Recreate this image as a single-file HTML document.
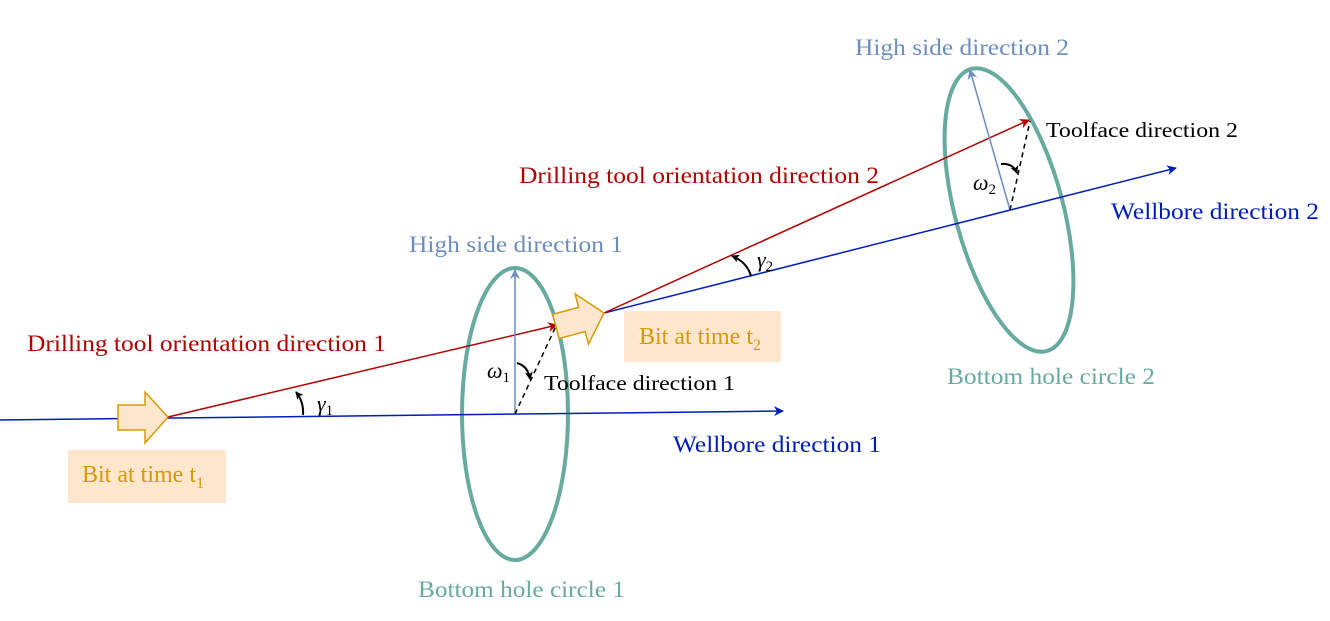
<!DOCTYPE html>
<html><head><meta charset="utf-8"><style>html,body{margin:0;padding:0;background:#fff}svg{display:block}</style></head><body>
<svg width="1330" height="621" viewBox="0 0 1330 621" xmlns="http://www.w3.org/2000/svg" font-family="Liberation Serif, serif" font-size="23">
<defs>
<marker id="ab" markerWidth="10" markerHeight="10" refX="9" refY="5" orient="auto" markerUnits="userSpaceOnUse"><path d="M0,0 L10,5 L0,10 L3,5z" fill="#001dbc"/></marker>
<marker id="ar" markerWidth="10" markerHeight="10" refX="9" refY="5" orient="auto" markerUnits="userSpaceOnUse"><path d="M0,0 L10,5 L0,10 L3,5z" fill="#b20000"/></marker>
<marker id="ah" markerWidth="10" markerHeight="10" refX="9" refY="5" orient="auto" markerUnits="userSpaceOnUse"><path d="M0,0 L10,5 L0,10 L3,5z" fill="#6c8ebf"/></marker>
<marker id="ak" markerWidth="8" markerHeight="8" refX="7" refY="4" orient="auto" markerUnits="userSpaceOnUse"><path d="M0,0 L8,4 L0,8 L2,4z" fill="#000"/></marker>
</defs>
<ellipse cx="515" cy="414" rx="53" ry="146" fill="none" stroke="#67ab9f" stroke-width="4"/>
<ellipse cx="1009" cy="210" rx="54" ry="146" fill="none" stroke="#67ab9f" stroke-width="4" transform="rotate(-15 1009 210)"/>
<line x1="0" y1="420" x2="783" y2="411" stroke="#001dbc" stroke-width="1.5" marker-end="url(#ab)"/>
<line x1="168" y1="417" x2="557" y2="325" stroke="#b20000" stroke-width="1.5" marker-end="url(#ar)"/>
<line x1="515" y1="414" x2="515" y2="270" stroke="#6c8ebf" stroke-width="1.5" marker-end="url(#ah)"/>
<line x1="515" y1="414" x2="556" y2="326" stroke="#000" stroke-width="1.5" stroke-dasharray="5,4"/>
<line x1="604" y1="313" x2="1176" y2="168" stroke="#001dbc" stroke-width="1.5" marker-end="url(#ab)"/>
<line x1="604" y1="313" x2="1029" y2="120" stroke="#b20000" stroke-width="1.5" marker-end="url(#ar)"/>
<line x1="1010" y1="210" x2="970" y2="70" stroke="#6c8ebf" stroke-width="1.5" marker-end="url(#ah)"/>
<line x1="1010" y1="210" x2="1030" y2="121" stroke="#000" stroke-width="1.5" stroke-dasharray="5,4"/>
<path d="M303,415 Q304,402 296,392" fill="none" stroke="#000" stroke-width="2" marker-end="url(#ak)"/>
<path d="M751,276 Q747,262 732,256" fill="none" stroke="#000" stroke-width="2" marker-end="url(#ak)"/>
<path d="M517,363 Q528,366 530,379" fill="none" stroke="#000" stroke-width="2" marker-end="url(#ak)"/>
<path d="M1001,164 Q1013,163 1017,173" fill="none" stroke="#000" stroke-width="2" marker-end="url(#ak)"/>
<path d="M118,405 L145,405 L145,392 L168,417 L145,443 L145,430 L118,430z" fill="#ffe6cc" stroke="#d79b00" stroke-width="1.5"/>
<g transform="translate(604,313) rotate(-15)"><path d="M-50,-12 L-23,-12 L-23,-26 L0,0 L-23,26 L-23,13 L-50,13z" fill="#ffe6cc" stroke="#d79b00" stroke-width="1.5"/></g>
<rect x="68" y="450" width="158" height="53" fill="#ffe6cc"/>
<rect x="624" y="311" width="157" height="51" fill="#ffe6cc"/>
<text x="82" y="482" fill="#d79b00" font-size="24">Bit at time t<tspan font-size="16" dy="6">1</tspan></text>
<text x="639" y="344" fill="#d79b00" font-size="24">Bit at time t<tspan font-size="16" dy="6">2</tspan></text>
<text x="27" y="351" fill="#b20000" textLength="359" lengthAdjust="spacingAndGlyphs">Drilling tool orientation direction 1</text>
<text x="519" y="183" fill="#b20000" textLength="360" lengthAdjust="spacingAndGlyphs">Drilling tool orientation direction 2</text>
<text x="409" y="252" fill="#6c8ebf" textLength="214" lengthAdjust="spacingAndGlyphs">High side direction 1</text>
<text x="855" y="55" fill="#6c8ebf" textLength="214" lengthAdjust="spacingAndGlyphs">High side direction 2</text>
<text x="544" y="390" fill="#000" font-size="21" textLength="191" lengthAdjust="spacingAndGlyphs">Toolface direction 1</text>
<text x="1046" y="137" fill="#000" font-size="21" textLength="192" lengthAdjust="spacingAndGlyphs">Toolface direction 2</text>
<text x="673" y="452" fill="#001dbc" textLength="208" lengthAdjust="spacingAndGlyphs">Wellbore direction 1</text>
<text x="1111" y="219" fill="#001dbc" textLength="208" lengthAdjust="spacingAndGlyphs">Wellbore direction 2</text>
<text x="418" y="597" fill="#67ab9f" textLength="207" lengthAdjust="spacingAndGlyphs">Bottom hole circle 1</text>
<text x="947" y="384" fill="#67ab9f" textLength="208" lengthAdjust="spacingAndGlyphs">Bottom hole circle 2</text>
<text x="317" y="411" font-style="italic" fill="#000" font-size="22">γ<tspan font-size="15" dy="4" font-style="normal">1</tspan></text>
<text x="757" y="267" font-style="italic" fill="#000" font-size="22">γ<tspan font-size="15" dy="4" font-style="normal">2</tspan></text>
<text x="487" y="378" font-style="italic" fill="#000" font-size="22">ω<tspan font-size="15" dy="4" font-style="normal">1</tspan></text>
<text x="973" y="190" font-style="italic" fill="#000" font-size="22">ω<tspan font-size="15" dy="4" font-style="normal">2</tspan></text>
</svg>
</body></html>
